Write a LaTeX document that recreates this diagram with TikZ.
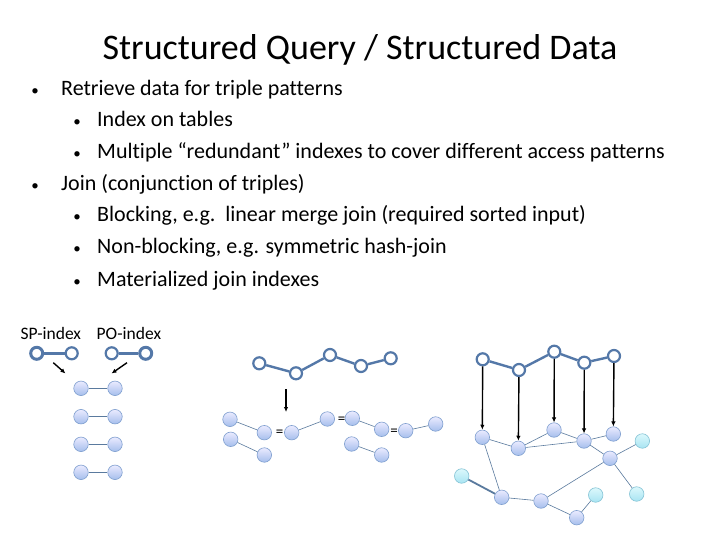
\documentclass[tikz,border=0pt]{standalone}
\usepackage{fontspec}
\setmainfont[RawFeature={-liga;-clig}]{Carlito}
\usetikzlibrary{arrows.meta}
\definecolor{patc}{HTML}{5478A8}
\definecolor{nodeb}{HTML}{7F9FCF}
\definecolor{edgec}{HTML}{5A7A9E}
\definecolor{cyb}{HTML}{86C4D6}
\begin{document}
\begin{tikzpicture}[x=1pt,y=-1pt,
  pat/.style={circle,draw=patc,fill=white,line width=2.2pt,minimum size=12pt,inner sep=0pt},
  patB/.style={pat,line width=3pt},
  patl/.style={draw=patc,line width=2.4pt},
  sn/.style={circle,draw=nodeb,line width=0.6pt,top color=blue!8!white,bottom color={rgb,255:red,165;green,190;blue,236},minimum size=14.5pt,inner sep=0pt},
  cn/.style={circle,draw=cyb,line width=0.6pt,top color={rgb,255:red,220;green,248;blue,252},bottom color={rgb,255:red,168;green,228;blue,242},minimum size=14.5pt,inner sep=0pt},
  ed/.style={draw=edgec,line width=0.6pt},
  arr/.style={-{Latex[length=5pt,width=4.5pt]},line width=1.4pt,black},
  bl/.style={anchor=base,font=\fontsize{15}{22}\selectfont,inner sep=0pt},
  txt/.style={anchor=base west,font=\fontsize{22}{24}\selectfont,inner sep=0pt},
  lab/.style={anchor=base west,font=\fontsize{17.5}{19}\selectfont,inner sep=0pt}
]
\useasboundingbox (0,0) rectangle (720,540);
\fill[white] (0,0) rectangle (720,540);
% title
\node[anchor=base,font=\fontsize{36}{40}\selectfont,inner sep=0pt] (title) at (360,60) {Structured Query / Structured Data};
% bullets
\node[bl] (b1) at (35,96) {•};
\node[txt] (t1) at (61,96) {Retrieve data for triple patterns};
\node[bl] (b2) at (77,127) {•};
\node[txt] (t2) at (97,127) {Index on tables};
\node[bl] (b3) at (77,159) {•};
\node[txt] (t3) at (97,159) {Multiple “redundant” indexes to cover different access patterns};
\node[bl] (b4) at (35,191) {•};
\node[txt] (t4) at (61,191) {Join (conjunction of triples)};
\node[bl] (b5) at (77,222) {•};
\node[txt] (t5) at (97,222) {Blocking, e.g.\ \ linear merge join (required sorted input)};
\node[bl] (b6) at (77,254) {•};
\node[txt] (t6) at (97,254) {Non-blocking, e.g. symmetric hash-join};
\node[bl] (b7) at (77,286) {•};
\node[txt] (t7) at (97,286) {Materialized join indexes};
% index labels
\node[lab] (spl) at (20.5,339) {SP-index};
\node[lab] (pol) at (96.5,339) {PO-index};
% SP / PO patterns
\node[patB] (sp1) at (36.7,353.3) {};
\node[pat] (sp2) at (71.7,353.3) {};
\draw[patl] (sp1) -- (sp2);
\node[pat] (po1) at (111.7,353.3) {};
\node[patB] (po2) at (145.7,353.3) {};
\draw[patl] (po1) -- (po2);
\coordinate (spa) at (53.3,362.7);
\coordinate (spb) at (65.5,373.5);
\coordinate (poa) at (127,362.7);
\coordinate (pob) at (111.5,373.5);
\draw[arr] (spa) -- (spb);
\draw[arr] (poa) -- (pob);
% pairs
\foreach \i/\y in {1/388.3,2/416.7,3/444.3,4/472.3}{
  \node[sn] (l\i) at (81,\y) {};
  \node[sn] (r\i) at (115,\y) {};
  \draw[ed] (l\i) -- (r\i);
}
% middle query pattern
\node[pat] (m1) at (259.3,363.3) {};
\node[pat] (m2) at (296,373.3) {};
\node[pat] (m3) at (330,355) {};
\node[pat] (m4) at (361,366) {};
\node[pat] (m5) at (390.7,358.3) {};
\draw[patl] (m1) -- (m2) -- (m3) -- (m4) -- (m5);
\coordinate (ma) at (286,389.3);
\coordinate (mb) at (286,412);
\draw[arr] (ma) -- (mb);
% middle join pieces
\node[sn] (a1) at (230,419.3) {};
\node[sn] (a2) at (264.3,432.7) {};
\node[sn] (a3) at (291.7,432.7) {};
\node[sn] (a4) at (327.3,419) {};
\node[sn] (a5) at (352.3,418.3) {};
\node[sn] (a6) at (381.7,429.3) {};
\node[sn] (a7) at (405.7,430.7) {};
\node[sn] (a8) at (435.7,424) {};
\node[sn] (a9) at (230.7,439.3) {};
\node[sn] (a10) at (264.3,455) {};
\node[sn] (a11) at (351.7,444) {};
\node[sn] (a12) at (381.7,455) {};
\draw[ed] (a1) -- (a2);
\draw[ed] (a3) -- (a4);
\draw[ed] (a5) -- (a6);
\draw[ed] (a7) -- (a8);
\draw[ed] (a9) -- (a10);
\draw[ed] (a11) -- (a12);
\node[font=\fontsize{15}{16}\selectfont,inner sep=0pt] (e1) at (279.5,433.5) {=};
\node[font=\fontsize{15}{16}\selectfont,inner sep=0pt] (e2) at (341.5,420.5) {=};
\node[font=\fontsize{15}{16}\selectfont,inner sep=0pt] (e3) at (394,432.5) {=};
% right query pattern
\node[pat] (q1) at (482.7,359.3) {};
\node[pat] (q2) at (519,370) {};
\node[pat] (q3) at (554.3,351.7) {};
\node[pat] (q4) at (584.3,362.7) {};
\node[pat] (q5) at (614,356) {};
\draw[patl] (q1) -- (q2) -- (q3) -- (q4) -- (q5);
% right graph
\node[sn] (gA) at (482.3,437.3) {};
\node[sn] (gB) at (518.3,448.3) {};
\node[sn] (gC) at (554,430) {};
\node[sn] (gD) at (584,441) {};
\node[sn] (gE) at (613.3,434) {};
\node[cn] (gF) at (642.3,441) {};
\node[sn] (gG) at (610,458.3) {};
\node[cn] (gH) at (461.7,476) {};
\node[sn] (gI) at (501.7,497.3) {};
\node[sn] (gJ) at (541,501) {};
\node[cn] (gK) at (595.7,495) {};
\node[cn] (gL) at (636.7,494) {};
\node[sn] (gM) at (576.7,517.7) {};
\draw[ed] (gA) -- (gB);
\draw[ed] (gB) -- (gC);
\draw[ed] (gB) -- (gD);
\draw[ed] (gC) -- (gD);
\draw[ed] (gD) -- (gE);
\draw[ed] (gD) -- (gG);
\draw[ed] (gG) -- (gF);
\draw[ed] (gG) -- (gL);
\draw[ed] (gG) -- (gJ);
\draw[ed] (gA) -- (gI);
\draw[ed,line width=1.8pt] (gH) -- (gI);
\draw[ed] (gI) -- (gJ);
\draw[ed] (gJ) -- (gM);
\draw[ed] (gM) -- (gK);
% mapping arrows
\draw[arr] (q1) -- (gA);
\draw[arr] (q2) -- (gB);
\draw[arr] (q3) -- (gC);
\draw[arr] (q4) -- (gD);
\draw[arr] (q5) -- (gE);
\end{tikzpicture}
\end{document}
